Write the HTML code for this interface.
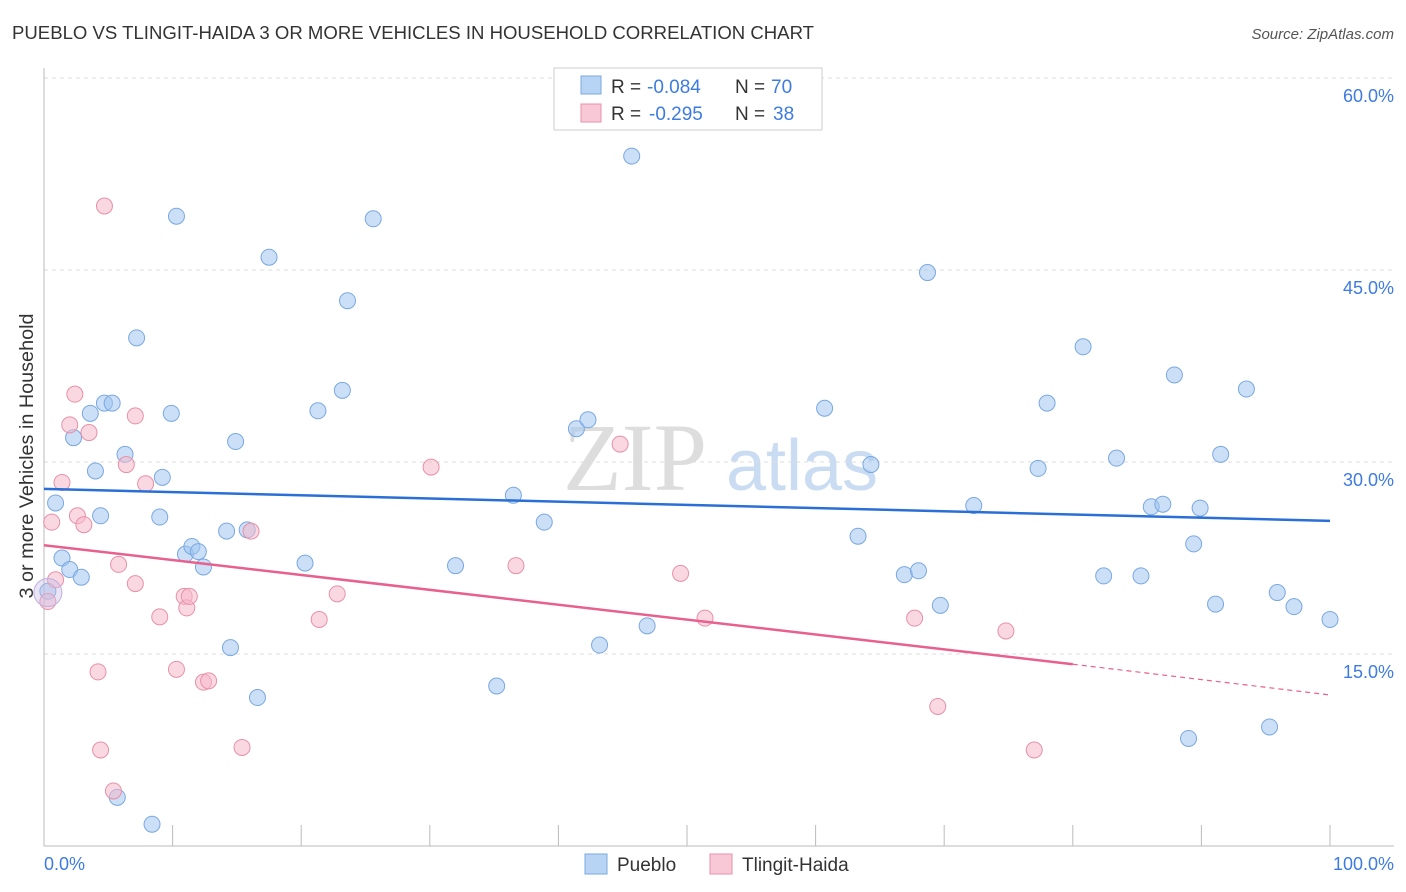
<!DOCTYPE html>
<html><head><meta charset="utf-8"><style>
body{margin:0;background:#fff;font-family:"Liberation Sans",sans-serif;}
svg{display:block}
</style></head><body>
<svg id="c" width="1406" height="892">
<text x="12" y="39" font-size="18" fill="#333" textLength="802" lengthAdjust="spacingAndGlyphs">PUEBLO VS TLINGIT-HAIDA 3 OR MORE VEHICLES IN HOUSEHOLD CORRELATION CHART</text>
<text x="1394" y="39" font-size="15" fill="#555" font-style="italic" text-anchor="end">Source: ZipAtlas.com</text>
<text x="33" y="456" font-size="19" fill="#333" text-anchor="middle" transform="rotate(-90 33 456)" textLength="285" lengthAdjust="spacingAndGlyphs">3 or more Vehicles in Household</text>
<text x="635" y="490" font-size="96" fill="#ddd" font-family="Liberation Serif,serif" text-anchor="middle">ZIP</text>
<text x="802" y="490" font-size="72" fill="#c9dcf2" text-anchor="middle">atlas</text>
<g id="grid"></g><g id="pts"></g><g id="lines"></g>
<g>
<rect x="554" y="68" width="268" height="62" fill="#fff" stroke="#ccc"/>
<rect x="581" y="76" width="20" height="18" fill="#b8d4f4" stroke="#7aa8e0"/>
<text x="611" y="93" font-size="19" fill="#333">R =</text>
<text x="647" y="93" font-size="19" fill="#3d7be0">-0.084</text>
<text x="735" y="93" font-size="19" fill="#333">N =</text>
<text x="771" y="93" font-size="19" fill="#3d7be0">70</text>
<rect x="581" y="104" width="20" height="18" fill="#f8c8d6" stroke="#e890a8"/>
<text x="611" y="120" font-size="19" fill="#333">R =</text>
<text x="649" y="120" font-size="19" fill="#3d7be0">-0.295</text>
<text x="735" y="120" font-size="19" fill="#333">N =</text>
<text x="773" y="120" font-size="19" fill="#3d7be0">38</text>
</g>
<g>
<rect x="585" y="854" width="22" height="20" fill="#b8d4f4" stroke="#7aa8e0"/>
<text x="617" y="871" font-size="19" fill="#333">Pueblo</text>
<rect x="710" y="854" width="22" height="20" fill="#f8c8d6" stroke="#e890a8"/>
<text x="742" y="871" font-size="19" fill="#333">Tlingit-Haida</text>
</g>
<text x="44" y="870" font-size="18" fill="#3d7be0">0.0%</text>
<text x="1394" y="870" font-size="18" fill="#3d7be0" text-anchor="end">100.0%</text>
</svg>
<script>
const yTicks=[15,30,45,60];
const blueX=[0.9,1.4,2.0,2.9,2.3,3.6,4.0,4.4,4.7,5.3,6.3,7.2,9.0,9.2,9.9,10.3,11.0,11.5,12.0,12.4,14.2,14.9,14.5,15.8,16.6,17.5,20.3,21.3,23.2,23.6,25.6,32.0,35.2,36.5,38.9,41.4,42.3,43.2,45.7,46.9,60.7,63.3,64.3,66.9,68.0,68.7,69.7,72.3,77.3,78.0,80.8,82.4,83.4,85.3,86.1,87.0,87.9,89.0,89.9,89.4,91.1,91.5,93.5,95.3,95.9,97.2,100.0,5.7,8.4,0.3];
const blueY=[26.8,22.5,21.6,21.0,31.9,33.8,29.3,25.8,34.6,34.6,30.6,39.7,25.7,28.8,33.8,49.2,22.8,23.4,23.0,21.8,24.6,31.6,15.5,24.7,11.6,46.0,22.1,34.0,35.6,42.6,49.0,21.9,12.5,27.4,25.3,32.6,33.3,15.7,53.9,17.2,34.2,24.2,29.8,21.2,21.5,44.8,18.8,26.6,29.5,34.6,39.0,21.1,30.3,21.1,26.5,26.7,36.8,8.4,26.4,23.6,18.9,30.6,35.7,9.3,19.8,18.7,17.7,3.8,1.7,19.9];
const pinkX=[0.3,0.6,0.9,1.4,2.0,2.4,2.6,3.1,3.5,4.2,4.4,4.7,5.4,5.8,6.4,7.1,7.1,7.9,9.0,10.3,10.9,11.1,11.3,12.4,12.8,15.4,16.1,21.4,22.8,30.1,36.7,44.8,49.5,51.4,67.7,69.5,74.8,77.0];
const pinkY=[19.1,25.3,20.8,28.4,32.9,35.3,25.8,25.1,32.3,13.6,7.5,50.0,4.3,22.0,29.8,20.5,33.6,28.3,17.9,13.8,19.5,18.6,19.5,12.8,12.9,7.7,24.6,17.7,19.7,29.6,21.9,31.4,21.3,17.8,17.8,10.9,16.8,7.5];
const blueFit=[27.9,25.4], pinkFit=[23.5,14.2,11.8], pinkSolidEnd=80;
const ns="http://www.w3.org/2000/svg";
const X=v=>44+v*12.86, Y=v=>846-v*12.8;
function mk(t,a,p){const e=document.createElementNS(ns,t);for(const k in a)e.setAttribute(k,a[k]);p.appendChild(e);return e;}
const grid=document.getElementById('grid');
yTicks.forEach(t=>{
 const l=mk('line',{x1:44,x2:1394,y1:Y(t),y2:Y(t),stroke:'#ddd','stroke-dasharray':'4,4'},grid);
 
 
 const tx=mk('text',{x:1394,y:Y(t)+24,'font-size':18,fill:'#3d7be0','text-anchor':'end'},grid);
 tx.textContent=t.toFixed(1)+'%';
 
 
});
mk('line',{x1:44,x2:44,y1:68,y2:846,stroke:'#bbb'},grid);
mk('line',{x1:44,x2:1394,y1:846,y2:846,stroke:'#bbb'},grid);
for(let i=0;i<=10;i++){const tk=mk('line',{x1:X(i*10),x2:X(i*10),y1:825,y2:846,stroke:'#bbb'},grid);
 
 }
const pts=document.getElementById('pts');
blueX.forEach((v,i)=>{const c=mk('circle',{cx:X(v),cy:Y(blueY[i]),r:8,fill:'rgba(160,196,240,0.55)',stroke:'#7aa8e0','stroke-width':1},pts);
 
 });
pinkX.forEach((v,i)=>{const c=mk('circle',{cx:X(v),cy:Y(pinkY[i]),r:8,fill:'rgba(245,184,202,0.55)',stroke:'#e890a8','stroke-width':1},pts);
 
 });
const big=mk('circle',{cx:X(0.3),cy:Y(19.8),r:14,fill:'rgba(200,190,230,0.4)',stroke:'#c0b0e0'},pts);


const ln=document.getElementById('lines');
const b=mk('line',{x1:X(0),y1:Y(blueFit[0]),x2:X(100),y2:Y(blueFit[1]),stroke:'#2a6fd6','stroke-width':2.5},ln);


const p=mk('line',{x1:X(0),y1:Y(pinkFit[0]),x2:X(pinkSolidEnd),y2:Y(pinkFit[1]),stroke:'#e8608e','stroke-width':2.5},ln);


const pd=mk('line',{x1:X(pinkSolidEnd),y1:Y(pinkFit[1]),x2:X(100),y2:Y(pinkFit[2]),stroke:'#e8608e','stroke-width':1.2,'stroke-dasharray':'5,4'},ln);


</script>
</body></html>
